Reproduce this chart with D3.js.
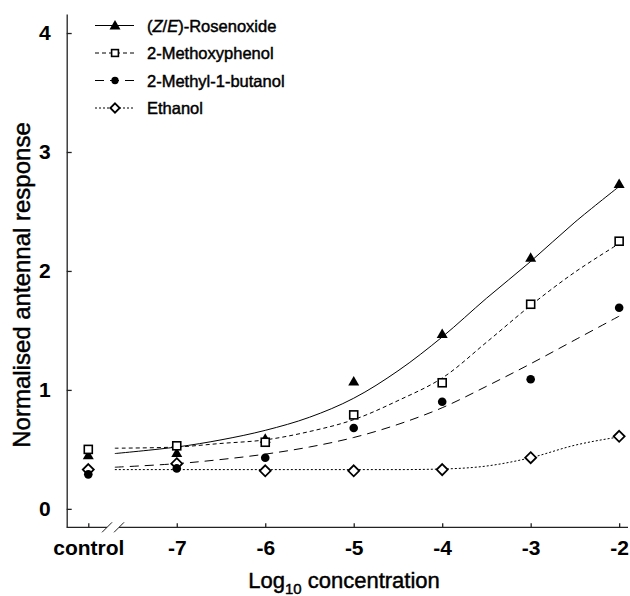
<!DOCTYPE html>
<html>
<head>
<meta charset="utf-8">
<script src="https://cdn.jsdelivr.net/npm/d3@7"></script>
<style>
  body { margin: 0; background: #fff; }
  text { font-family: "Liberation Sans", Arial, sans-serif; fill: #000; }
  .heavy { stroke: #000; stroke-width: 0.45px; }
</style>
</head>
<body>
<svg id="chart"></svg>
<script>
// Chart size
var width = 630;
var height = 596;

// Concentrations (control is drawn one step left of -7)
var concentrations = [-8, -7, -6, -5, -4, -3, -2];
var tickLabels = ["control", "-7", "-6", "-5", "-4", "-3", "-2"];
var yTicks = [0, 1, 2, 3, 4];

// Measured responses
var rosenoxide = [0.45, 0.47, 0.59, 1.07, 1.47, 2.11, 2.73];
var methoxyphenol = [0.50, 0.53, 0.56, 0.79, 1.06, 1.72, 2.25];
var methylButanol = [0.29, 0.34, 0.43, 0.68, 0.90, 1.09, 1.69];
var ethanol = [0.33, 0.38, 0.32, 0.32, 0.33, 0.43, 0.61];

// Fitted curves
var curveX = [-7.7, -7, -6.5, -6, -5.5, -5, -4.5, -4, -3.5, -3, -2.5, -2];
var rosenoxideFit = [0.465, 0.52, 0.58, 0.66, 0.77, 0.93, 1.16, 1.445, 1.77, 2.08, 2.41, 2.71];
var methoxyphenolFit = [0.51, 0.52, 0.55, 0.58, 0.65, 0.75, 0.91, 1.10, 1.40, 1.71, 1.99, 2.23];
var methylButanolFit = [0.35, 0.38, 0.415, 0.46, 0.52, 0.60, 0.71, 0.85, 1.03, 1.22, 1.42, 1.62];
var ethanolFit = [0.33, 0.33, 0.33, 0.33, 0.33, 0.33, 0.33, 0.335, 0.36, 0.43, 0.535, 0.605];

var breakAt = -7.72; // where the x axis is broken

var series = [
    { name: "rose", values: rosenoxide, fit: rosenoxideFit, dash: null, symbol: "triangle" },
    { name: "2-Methoxyphenol", values: methoxyphenol, fit: methoxyphenolFit, dash: "4,3", symbol: "square" },
    { name: "2-Methyl-1-butanol", values: methylButanol, fit: methylButanolFit, dash: "9,6", symbol: "circle" },
    { name: "Ethanol", values: ethanol, fit: ethanolFit, dash: "2,2", symbol: "diamond" }
];

var svg = d3.select("#chart")
    .attr("width", width)
    .attr("height", height);

var x = d3.scaleLinear().domain([-8.244, -1.9]).range([66.7, 628]);
var y = d3.scaleLinear().domain([-0.155, 4.16]).range([527.3, 14]);

// Y axis, ticks pointing inward
var yAxis = svg.append("g")
    .attr("transform", "translate(" + x.range()[0] + ",0)")
    .call(d3.axisLeft(y).tickValues(yTicks).tickFormat(d3.format("d"))
        .tickSize(-5).tickSizeOuter(0).tickPadding(16));
yAxis.selectAll("text")
    .style("font-size", "21px").style("font-weight", "bold")
    .style("font-family", "'Liberation Sans', Arial, sans-serif");

// X axis
var xAxis = svg.append("g")
    .attr("transform", "translate(0," + y.range()[0] + ")")
    .call(d3.axisBottom(x).tickValues(concentrations)
        .tickFormat(function (d, i) { return tickLabels[i]; })
        .tickSize(-4).tickSizeOuter(0).tickPadding(13));
xAxis.select(".domain").remove();
xAxis.selectAll("text")
    .style("font-size", "21px").style("font-weight", "bold")
    .style("font-family", "'Liberation Sans', Arial, sans-serif");

svg.selectAll(".domain, .tick line").attr("stroke", "#222").attr("stroke-width", 1.3);

// x axis line with a break
var yBase = y.range()[0];
var bx = x(breakAt);
svg.append("line").attr("x1", x.range()[0]).attr("x2", bx - 6)
    .attr("y1", yBase).attr("y2", yBase).attr("stroke", "#222").attr("stroke-width", 1.3);
svg.append("line").attr("x1", bx + 6).attr("x2", x.range()[1])
    .attr("y1", yBase).attr("y2", yBase).attr("stroke", "#222").attr("stroke-width", 1.3);
[-6, 6].forEach(function (off) {
    svg.append("line")
        .attr("x1", bx + off - 5).attr("y1", yBase + 5)
        .attr("x2", bx + off + 5).attr("y2", yBase - 5)
        .attr("stroke", "#222").attr("stroke-width", 1);
});

// Fitted lines
function fitLine(curve) {
    return d3.line()
        .x(function (d) { return x(d[0]); })
        .y(function (d) { return y(d[1]); })
        .curve(curve);
}

series.forEach(function (s) {
    var curve = s.symbol === "diamond" ? d3.curveMonotoneX : d3.curveCatmullRom.alpha(0.5);
    svg.append("path")
        .datum(curveX.map(function (c, i) { return [c, s.fit[i]]; }))
        .attr("d", fitLine(curve))
        .attr("fill", "none")
        .attr("stroke", "#000")
        .attr("stroke-width", 1)
        .attr("stroke-dasharray", s.dash);
});

// Symbols
function drawSymbol(g, type, cx, cy, k) {
    k = k || 1;
    if (type === "triangle") {
        g.append("path")
            .attr("d", "M" + cx + "," + (cy - 5.5 * k) + "L" + (cx + 5.5 * k) + "," + (cy + 4 * k) + "L" + (cx - 5.5 * k) + "," + (cy + 4 * k) + "Z")
            .attr("fill", "#000");
    } else if (type === "square") {
        g.append("rect")
            .attr("x", cx - 4 * k).attr("y", cy - 4 * k).attr("width", 8 * k).attr("height", 8 * k)
            .attr("fill", "#fff").attr("stroke", "#000").attr("stroke-width", 1.6);
    } else if (type === "circle") {
        g.append("circle").attr("cx", cx).attr("cy", cy).attr("r", 4.3 * k).attr("fill", "#000");
    } else {
        g.append("path")
            .attr("d", "M" + cx + "," + (cy - 5.5 * k) + "L" + (cx + 5.5 * k) + "," + cy + "L" + cx + "," + (cy + 5.5 * k) + "L" + (cx - 5.5 * k) + "," + cy + "Z")
            .attr("fill", "#fff").attr("stroke", "#000").attr("stroke-width", 1.8);
    }
}

var marks = svg.append("g");
// draw in reverse so triangles/squares sit on top like the original
[3, 2, 0, 1].forEach(function (k) {
    var s = series[k];
    s.values.forEach(function (v, i) {
        drawSymbol(marks, s.symbol, x(concentrations[i]), y(v));
    });
});

// Legend
var legendY = [25.5, 53, 80.5, 108];
var legend = svg.append("g");
series.forEach(function (s, i) {
    var ly = legendY[i];
    legend.append("line")
        .attr("x1", 95).attr("x2", 134).attr("y1", ly).attr("y2", ly)
        .attr("stroke", "#000").attr("stroke-width", 1)
        .attr("stroke-dasharray", s.dash);
    drawSymbol(legend, s.symbol, 115, ly, i === 0 ? 1 : 0.85);
    var t = legend.append("text")
        .attr("class", "heavy")
        .attr("x", 147).attr("y", ly + 6)
        .style("font-size", "16.5px");
    if (i === 0) {
        t.append("tspan").text("(");
        t.append("tspan").style("font-style", "italic").text("Z");
        t.append("tspan").text("/");
        t.append("tspan").style("font-style", "italic").text("E");
        t.append("tspan").text(")-Rosenoxide");
    } else {
        t.text(s.name);
    }
});

// Axis titles
var xt = svg.append("text")
    .attr("class", "heavy")
    .attr("x", 344).attr("y", 588)
    .attr("text-anchor", "middle")
    .style("font-size", "22px");
xt.append("tspan").text("Log");
xt.append("tspan").attr("dy", 6).style("font-size", "15px").text("10");
xt.append("tspan").attr("dy", -6).text(" concentration");

svg.append("text")
    .attr("class", "heavy")
    .attr("transform", "translate(30,285) rotate(-90)")
    .attr("text-anchor", "middle")
    .style("font-size", "24px")
    .text("Normalised antennal response");
</script>
</body>
</html>
